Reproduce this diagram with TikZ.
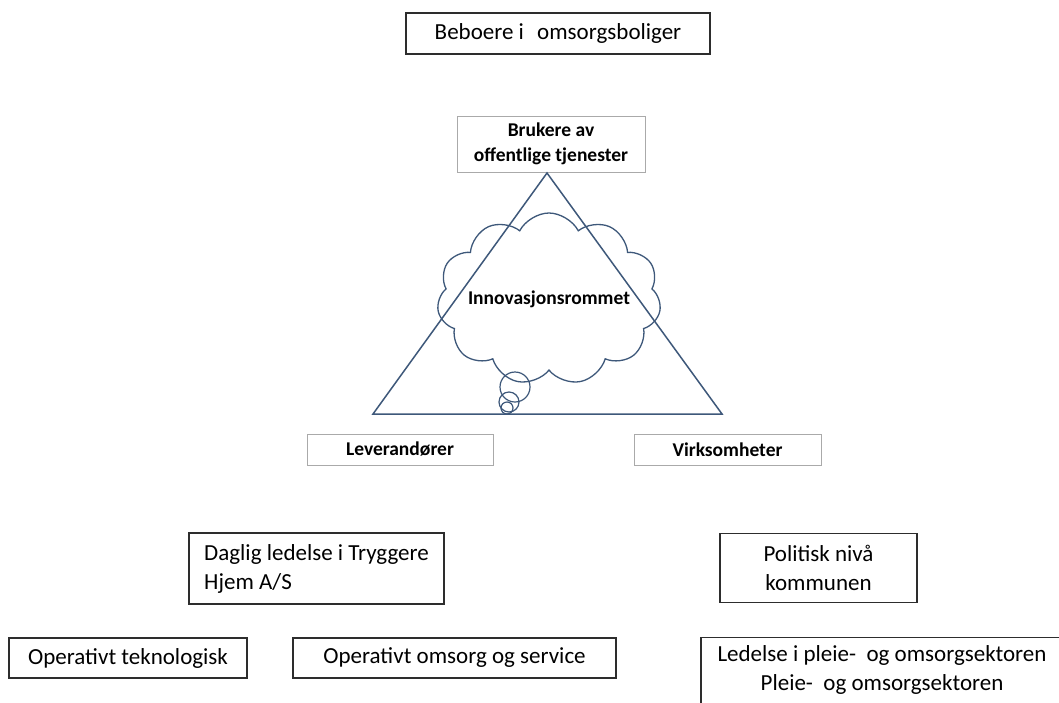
\documentclass[tikz,border=0pt]{standalone}
\usepackage{fontspec}
\setmainfont{Carlito}
\usetikzlibrary{shapes.symbols}
\definecolor{tri}{RGB}{62,88,122}
\definecolor{gbox}{RGB}{170,170,170}
\definecolor{kbox}{RGB}{45,45,45}
\tikzset{
  blackbox/.style={draw=kbox, line width=1.2pt, inner sep=0pt, align=center,
    font=\fontsize{23}{29}\selectfont},
  greybox/.style={draw=gbox, line width=1pt, inner sep=0pt, align=center,
    font=\bfseries\fontsize{19.5}{24.5}\selectfont},
  bubble/.style={circle, draw=tri, line width=1.2pt, inner sep=0pt},
  triline/.style={draw=tri, line width=1.5pt, line join=miter}
}
\begin{document}
\begin{tikzpicture}[x=1pt,y=-1pt]
\clip (0,0) rectangle (1059,702);
\fill[white] (0,0) rectangle (1059,702);

% top box
\node[blackbox, minimum width=304, minimum height=41] (beboere) at (558,33.5)
  {Beboere i\hspace{0.35em} omsorgsboliger};

% triangle
\node[greybox, minimum width=188, minimum height=56] (brukere) at (551,144)
  {Brukere av\\offentlige tjenester};
\coordinate (apex) at (547,173);
\coordinate (bl) at (373,414);
\coordinate (br) at (722,414);
\draw[triline] (apex) -- (bl) -- (br) -- cycle;

% cloud
\node[cloud, draw=tri, line width=1.3pt, cloud puffs=11, cloud puff arc=125,
  cloud ignores aspect, minimum width=208, minimum height=172, inner sep=0pt,
  font=\bfseries\fontsize{19.5}{24}\selectfont] (cloud) at (549,299) {Innovasjonsrommet};
\node[bubble, minimum size=30] (b1) at (515,387) {};
\node[bubble, minimum size=20] (b2) at (509,402) {};
\node[bubble, minimum size=12] (b3) at (507,408) {};

\node[greybox, minimum width=186, minimum height=31] (lev) at (400,449.5) {Leverandører};
\node[greybox, minimum width=187, minimum height=31] (virk) at (727.5,449.5) {Virksomheter};

% bottom boxes
\node[blackbox, minimum width=255, minimum height=71, align=left] (daglig) at (316.5,568.5)
  {Daglig ledelse i Tryggere\\Hjem A/S};
\node[blackbox, minimum width=197, minimum height=69] (politisk) at (818.5,568)
  {Politisk nivå\\kommunen};
\node[blackbox, minimum width=238, minimum height=40] (optek) at (128,658)
  {Operativt teknologisk};
\node[blackbox, minimum width=323, minimum height=40] (opoms) at (454.5,658)
  {Operativt omsorg og service};
\node[blackbox, minimum width=362, anchor=north, inner ysep=8pt] (ledelse) at (882,637)
  {Ledelse i pleie-\ \ og omsorgsektoren\\Pleie-\ \ og omsorgsektoren\\[20pt]\strut};
\end{tikzpicture}
\end{document}
